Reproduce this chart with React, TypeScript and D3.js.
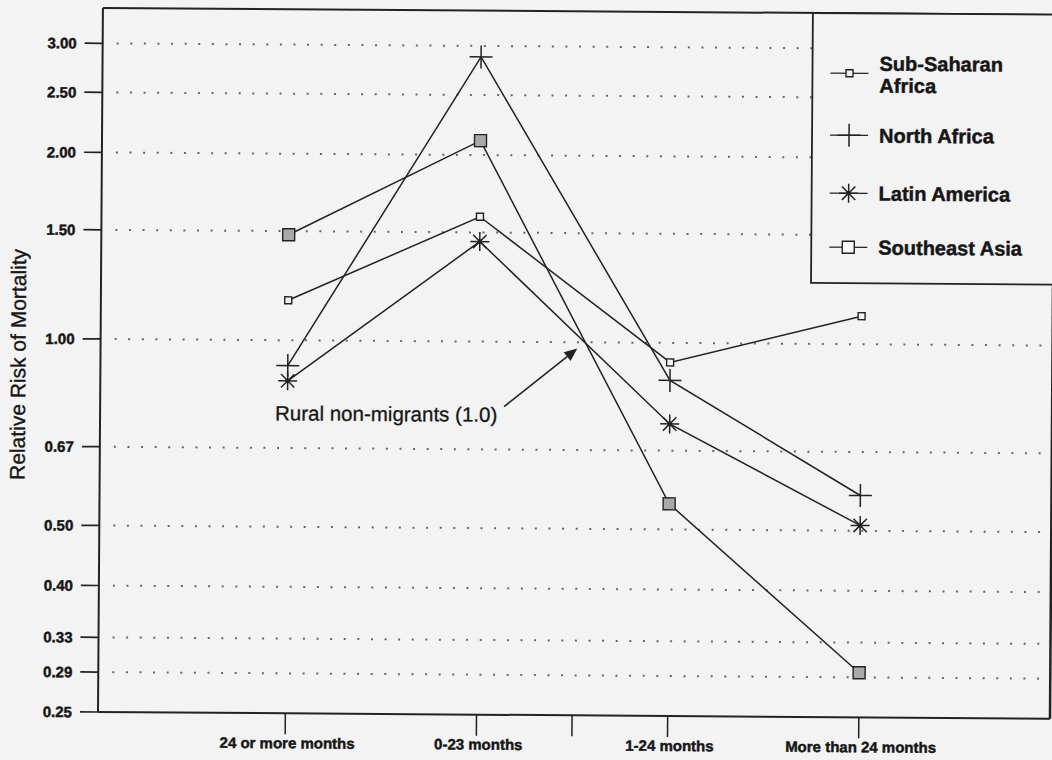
import React from "react";
import * as d3 from "d3";

const categories = ["24 or more months", "0-23 months", "1-24 months", "More than 24 months"];
const categoryPos = [0, 1, 2, 3];
const separatorPos = [1.5];

const subSaharanAfrica = [1.16, 1.59, 0.93, 1.11];
const northAfrica = [0.91, 2.88, 0.87, 0.57];
const latinAmerica = [0.86, 1.45, 0.74, 0.51];
const southeastAsia = [1.48, 2.11, 0.55, 0.295];

const yTicks = [0.25, 0.29, 0.33, 0.4, 0.5, 0.67, 1.0, 1.5, 2.0, 2.5, 3.0];
const yGridTicks = [0.29, 0.33, 0.4, 0.5, 0.67, 1.0, 1.5, 2.0, 2.5, 3.0];

const referenceLabel = "Rural non-migrants (1.0)";
const arrowTail = { x: 1.133, y: 0.786 };
const arrowTip = { x: 1.514, y: 0.977 };

const yTitle = "Relative Risk of Mortality";

type SeriesDef = { name: string[]; values: number[]; marker: "smallSquare" | "plus" | "asterisk" | "bigSquare" };
const series: SeriesDef[] = [
  { name: ["Sub-Saharan", "Africa"], values: subSaharanAfrica, marker: "smallSquare" },
  { name: ["North Africa"], values: northAfrica, marker: "plus" },
  { name: ["Latin America"], values: latinAmerica, marker: "asterisk" },
  { name: ["Southeast Asia"], values: southeastAsia, marker: "bigSquare" },
];

const W = 1052;
const H = 760;
const left = 98;
const right = 1050;
const top = 8;
const bottom = 712;
const BG = "#f3f3f3";
const INK = "#222";
const TXT = "#161616";
const FONT = "'Liberation Sans', Arial, Helvetica, sans-serif";

function Marker({ kind, x, y, legend = false }: { kind: string; x: number; y: number; legend?: boolean }) {
  if (kind === "smallSquare") {
    return <rect x={x - 3.5} y={y - 3.5} width={7} height={7} fill={BG} stroke={INK} strokeWidth={1.4} />;
  }
  if (kind === "bigSquare") {
    return (
      <rect x={x - 6} y={y - 6} width={12} height={12} fill={legend ? "#fbfbfb" : "#a9a9a9"} stroke={INK} strokeWidth={1.4} />
    );
  }
  if (kind === "plus") {
    const s = 11.5;
    return (
      <g stroke={INK} strokeWidth={1.5}>
        <line x1={x - s} y1={y} x2={x + s} y2={y} />
        <line x1={x} y1={y - s} x2={x} y2={y + s} />
      </g>
    );
  }
  const s = 9.5;
  const d = 6.7;
  return (
    <g stroke={INK} strokeWidth={1.5}>
      <line x1={x - s} y1={y} x2={x + s} y2={y} />
      <line x1={x} y1={y - s} x2={x} y2={y + s} />
      <line x1={x - d} y1={y - d} x2={x + d} y2={y + d} />
      <line x1={x - d} y1={y + d} x2={x + d} y2={y - d} />
      <circle cx={x} cy={y} r={2.4} fill={INK} stroke="none" />
    </g>
  );
}

export default function App() {
  const x = d3.scaleLinear().domain([-0.98, 4]).range([left, right]);
  const y = d3.scaleLog().domain([0.25, 3.42]).range([bottom, top]);
  const line = d3
    .line<number>()
    .x((_, i) => x(categoryPos[i]))
    .y((v) => y(v));

  const fmt = d3.format(".2f");

  const tailX = x(arrowTail.x);
  const tailY = y(arrowTail.y);
  const tipX = x(arrowTip.x);
  const tipY = y(arrowTip.y);
  const ang = Math.atan2(tipY - tailY, tipX - tailX);
  const ah = 13;
  const aw = 5.5;
  const baseX = tipX - ah * Math.cos(ang);
  const baseY = tipY - ah * Math.sin(ang);
  const arrowHead = [
    [tipX, tipY],
    [baseX + aw * Math.sin(ang), baseY - aw * Math.cos(ang)],
    [baseX - aw * Math.sin(ang), baseY + aw * Math.cos(ang)],
  ]
    .map((p) => p.join(","))
    .join(" ");

  const legendLeft = 808;
  const legendBottom = 278;
  const legendSymX = 845;
  const legendTextX = 875;
  const legendRows = [68, 130, 188, 242];

  const boldText = { fontWeight: "bold" as const, fill: TXT, stroke: TXT, strokeWidth: 0.45 };

  return (
    <svg
      width={W}
      height={H}
      style={{ position: "absolute", left: 0, top: 0, display: "block" }}
      fontFamily={FONT}
    >
      <rect x={0} y={0} width={W} height={H} fill={BG} />
      <g transform={`rotate(0.4, ${left}, ${bottom})`}>
        {yGridTicks.map((t) => (
          <line
            key={"g" + t}
            x1={left + 14}
            x2={right}
            y1={y(t)}
            y2={y(t)}
            stroke="#666"
            strokeWidth={2}
            strokeDasharray="2,11.6"
          />
        ))}

        {yTicks.map((t) => (
          <g key={"t" + t}>
            <line x1={left - 18} x2={left} y1={y(t)} y2={y(t)} stroke={INK} strokeWidth={1.7} />
            <text x={left - 26} y={y(t)} dy="0.36em" textAnchor="end" fontSize={15} {...boldText}>
              {fmt(t)}
            </text>
          </g>
        ))}

        {[...categoryPos, ...separatorPos].map((p) => (
          <line key={"xt" + p} x1={x(p)} x2={x(p)} y1={bottom} y2={bottom + 21} stroke={INK} strokeWidth={1.5} />
        ))}
        {categories.map((c, i) => (
          <text key={c} x={x(categoryPos[i]) + 2} y={bottom + 35} textAnchor="middle" fontSize={15} {...boldText}>
            {c}
          </text>
        ))}

        {series.map((s) => (
          <path key={s.name.join(" ")} d={line(s.values) || ""} fill="none" stroke={INK} strokeWidth={1.5} />
        ))}
        {series.map((s) =>
          s.values.map((v, i) => (
            <Marker key={s.name.join(" ") + i} kind={s.marker} x={x(categoryPos[i])} y={y(v)} />
          ))
        )}

        <line x1={tailX} y1={tailY} x2={baseX} y2={baseY} stroke={INK} strokeWidth={1.6} />
        <polygon points={arrowHead} fill={INK} />
        <text x={273} y={419} fontSize={20.5} fill={TXT} stroke={TXT} strokeWidth={0.3}>
          {referenceLabel}
        </text>

        <line x1={left} x2={left} y1={top} y2={bottom} stroke={INK} strokeWidth={2} />
        <line x1={left} x2={right} y1={bottom} y2={bottom} stroke={INK} strokeWidth={2} />
        <line x1={left} x2={right} y1={top} y2={top} stroke={INK} strokeWidth={2} />
        <line x1={right} x2={right} y1={top} y2={bottom} stroke={INK} strokeWidth={2.5} />

        <rect
          x={legendLeft}
          y={top}
          width={right - legendLeft}
          height={legendBottom - top}
          fill={BG}
          stroke={INK}
          strokeWidth={1.8}
        />
        {series.map((s, i) => {
          const cy = legendRows[i];
          return (
            <g key={"lg" + i}>
              <line x1={legendSymX - 19} x2={legendSymX + 19} y1={cy} y2={cy} stroke={INK} strokeWidth={1.4} />
              <Marker kind={s.marker} x={legendSymX} y={cy} legend />
              {s.name.length === 1 ? (
                <text x={legendTextX} y={cy} dy="0.36em" fontSize={20} {...boldText}>
                  {s.name[0]}
                </text>
              ) : (
                s.name.map((n, j) => (
                  <text key={n} x={legendTextX} y={cy - 10 + j * 22} dy="0.36em" fontSize={20} {...boldText}>
                    {n}
                  </text>
                ))
              )}
            </g>
          );
        })}

        <text
          transform={`translate(23, 365) rotate(-90)`}
          textAnchor="middle"
          fontSize={21}
          fill={TXT}
          stroke={TXT}
          strokeWidth={0.35}
        >
          {yTitle}
        </text>
      </g>
    </svg>
  );
}
